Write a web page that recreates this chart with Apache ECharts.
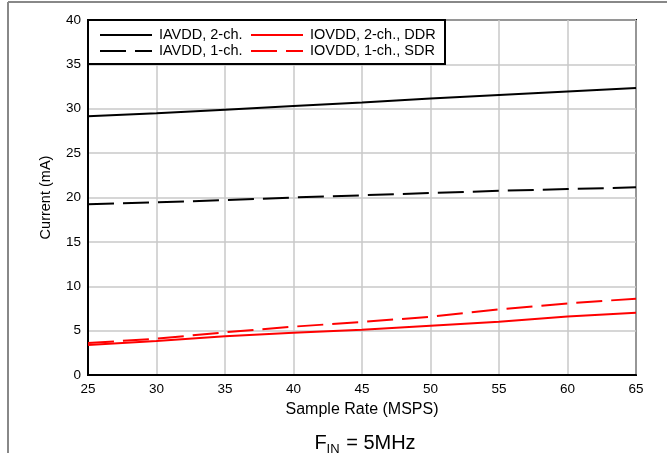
<!DOCTYPE html>
<html>
<head>
<meta charset="utf-8">
<script src="https://cdn.jsdelivr.net/npm/echarts@6/dist/echarts.min.js"></script>
<style>
    html, body { margin: 0; padding: 0; background: #fff; }
    #chart { width: 667px; height: 453px; }
</style>
</head>
<body>
<div id="chart"></div>
<script>
// sample rate (MSPS)
const rates = [25, 30, 35, 40, 45, 50, 55, 60, 65]
// currents (mA)
const iavdd2ch = [29.15, 29.5, 29.9, 30.3, 30.7, 31.15, 31.55, 31.95, 32.35]
const iavdd1ch = [19.25, 19.45, 19.7, 20.0, 20.25, 20.5, 20.75, 20.95, 21.15]
const iovdd2chDdr = [3.38, 3.83, 4.36, 4.77, 5.1, 5.56, 6.0, 6.6, 7.02]
const iovdd1chSdr = [3.6, 4.09, 4.81, 5.45, 5.97, 6.57, 7.4, 8.07, 8.6]

const font = 'Liberation Sans, Arial, sans-serif'
const dash = [26, 9]

const pairs = (ys) => rates.map((x, i) => [x, ys[i]])

const makeLine = (name, ys, color, type) => ({
    name: name,
    type: 'line',
    symbol: 'none',
    data: pairs(ys),
    lineStyle: { color: color, width: 2, type: type },
    itemStyle: { color: color }
})

const legendBase = {
    orient: 'vertical',
    top: 27,
    padding: 0,
    itemWidth: 52, itemHeight: 10, itemGap: 0,
    itemStyle: { opacity: 0 },
    textStyle: { fontSize: 14.5, color: '#000', fontFamily: font, lineHeight: 16, padding: [0, 0, 0, 2] }
}

const chart = echarts.init(document.querySelector('#chart'))
chart.setOption({
    animation: false,
    textStyle: { fontFamily: font },
    title: {
        text: '{a|F}{s|IN}{a| = 5MHz}',
        left: 360,
        textAlign: 'center',
        top: 425,
        textStyle: {
            fontWeight: 'normal',
            rich: {
                a: { fontSize: 20, color: '#000', fontFamily: font, fontWeight: 'normal', lineHeight: 26 },
                s: { fontSize: 13, color: '#000', fontFamily: font, fontWeight: 'normal', lineHeight: 26, verticalAlign: 'bottom', padding: [0, 1, 0, 0] }
            }
        }
    },
    grid: {
        left: 88, right: 31, top: 20, bottom: 78,
        show: true, borderColor: '#000', borderWidth: 2
    },
    legend: [
        Object.assign({}, legendBase, {
            left: 99,
            data: [
                { name: 'IAVDD, 2-ch.' },
                { name: 'IAVDD, 1-ch.', lineStyle: { type: dash } }
            ]
        }),
        Object.assign({}, legendBase, {
            left: 250,
            data: [
                { name: 'IOVDD, 2-ch., DDR' },
                { name: 'IOVDD, 1-ch., SDR', lineStyle: { type: dash } }
            ]
        })
    ],
    xAxis: {
        type: 'value', min: 25, max: 65, interval: 5,
        name: 'Sample Rate (MSPS)', nameLocation: 'middle', nameGap: 27,
        nameTextStyle: { fontSize: 16, color: '#000' },
        axisLine: { lineStyle: { color: '#000', width: 2 } },
        axisTick: { show: false },
        axisLabel: { fontSize: 13.5, color: '#000', margin: 7 },
        splitLine: { lineStyle: { color: '#c8c8c8', width: 1.5 } }
    },
    yAxis: {
        type: 'value', min: 0, max: 40, interval: 5,
        name: 'Current (mA)', nameLocation: 'middle', nameGap: 35,
        nameTextStyle: { fontSize: 14.5, color: '#000' },
        axisLine: { show: true, lineStyle: { color: '#000', width: 2 } },
        axisTick: { show: false },
        axisLabel: { fontSize: 13.5, color: '#000', margin: 7 },
        splitLine: { lineStyle: { color: '#c8c8c8', width: 1.5 } }
    },
    graphic: [
        { type: 'line', shape: { x1: 8, y1: 2, x2: 667, y2: 2 }, style: { stroke: '#888', lineWidth: 2 } },
        { type: 'line', shape: { x1: 8, y1: 2, x2: 8, y2: 453 }, style: { stroke: '#888', lineWidth: 2 } },
        // legend frame
        { type: 'rect', z: 3, shape: { x: 88, y: 20, width: 357, height: 44 }, style: { fill: '#fff', stroke: '#000', lineWidth: 2 } }
    ],
    series: [
        makeLine('IAVDD, 2-ch.', iavdd2ch, '#000', 'solid'),
        makeLine('IAVDD, 1-ch.', iavdd1ch, '#000', dash),
        makeLine('IOVDD, 2-ch., DDR', iovdd2chDdr, '#ff0000', 'solid'),
        makeLine('IOVDD, 1-ch., SDR', iovdd1chSdr, '#ff0000', dash)
    ]
})
</script>
</body>
</html>
